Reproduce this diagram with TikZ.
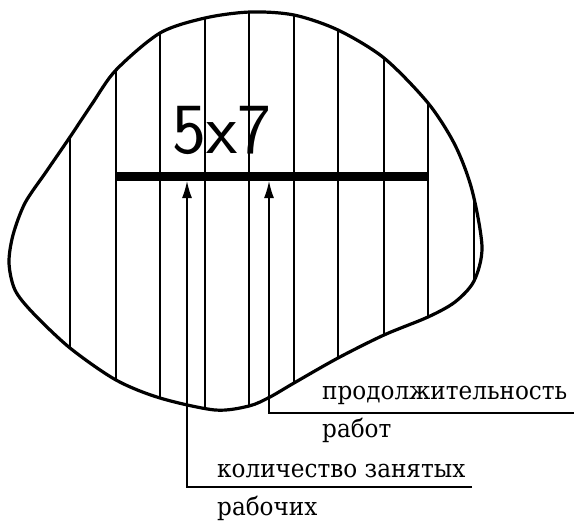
\documentclass[tikz,border=0pt]{standalone}
\usepackage{fontspec}
\newfontfamily\rufont{DejaVu Serif}
\usetikzlibrary{arrows.meta}
\newcommand\labtext[1]{\scalebox{0.925}[1]{#1}}
\begin{document}
\begin{tikzpicture}[x=1pt,y=-1pt,
  outline/.style={line width=3.2pt},
  hatch/.style={line width=2.3pt},
  dimbar/.style={line width=8.5pt},
  leader/.style={line width=1.5pt},
  pointer/.style={leader,-{Latex[length=17pt,width=10pt]}},
  lbl/.style={font=\rufont\fontsize{25}{30}\selectfont, inner sep=0pt, anchor=base west},
  dimtext/.style={font=\sffamily\fontsize{72}{80}\selectfont, inner sep=0pt, anchor=base}
]
\useasboundingbox (0,0) rectangle (574,523);
% hatching, clipped to the region
\begin{scope}
\clip plot[smooth cycle, tension=0.5] coordinates {
 (250,12) (294,15) (338,30) (384,58) (428,103) (455,145) (472,190) (482,247)
 (474,281) (455,302) (428,317) (384,335) (338,358) (294,383) (270,397) (249,406)
 (215,410) (160,398) (116,380) (70,348) (33,313) (15,290) (9,263) (13,235)
 (25,203) (46,172) (70,137) (92,104) (116,70) (160,33) (205,18)};
\foreach \xx in {70,116,160,205,249,294,338,384,428,474}
  \draw[hatch] (\xx,0) -- (\xx,523);
\end{scope}
% outline
\draw[outline] plot[smooth cycle, tension=0.5] coordinates {
 (250,12) (294,15) (338,30) (384,58) (428,103) (455,145) (472,190) (482,247)
 (474,281) (455,302) (428,317) (384,335) (338,358) (294,383) (270,397) (249,406)
 (215,410) (160,398) (116,380) (70,348) (33,313) (15,290) (9,263) (13,235)
 (25,203) (46,172) (70,137) (92,104) (116,70) (160,33) (205,18)};
% dimension bar
\coordinate (b1) at (116,176.5);
\coordinate (b2) at (428,176.5);
\draw[dimbar] (b1) -- (b2);
\node[dimtext] (dim) at (222,153) {5x7};
% labels
\node[lbl] (l1a) at (322,399) {\labtext{продолжительность}};
\node[lbl] (l1b) at (322,437) {\labtext{работ}};
\node[lbl] (l2a) at (217,477) {\labtext{количество занятых}};
\node[lbl] (l2b) at (217,515) {\labtext{рабочих}};
% leaders
\coordinate (t1) at (187,181);
\coordinate (t2) at (269,181);
\coordinate (c1) at (187,487);
\coordinate (c2) at (269,413);
\coordinate (e1) at (472,487);
\coordinate (e2) at (574,413);
\draw[pointer] (e1) -- (c1) -- (t1);
\draw[pointer] (e2) -- (c2) -- (t2);
\end{tikzpicture}
\end{document}
